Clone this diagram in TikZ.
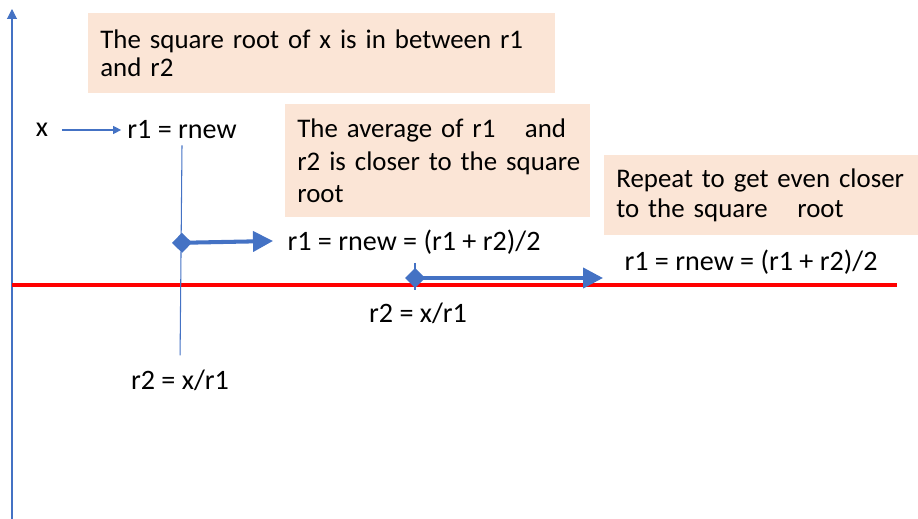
\documentclass[tikz,border=0pt]{standalone}
\usepackage{fontspec}
\setmainfont{Carlito}
\usetikzlibrary{arrows.meta}
\definecolor{axisblue}{HTML}{4472C4}
\definecolor{notefill}{HTML}{FBE5D6}
\begin{document}
\begin{tikzpicture}[x=0.02cm,y=-0.02cm,font=\fontsize{16}{17}\selectfont,
	note/.style={fill=notefill,anchor=north west,align=left,inner xsep=0.24cm,inner ysep=0pt},
	thinblue/.style={draw=axisblue,line width=0.6pt},
	jump/.style={draw=axisblue,line width=2.3pt,{Diamond[length=0.4cm,width=0.4cm]}-{Triangle[length=0.4cm,width=0.4cm]}}]
	\useasboundingbox (0,0) rectangle (918,519);
	
	\coordinate (axisbot) at (12,519);
	\coordinate (axistop) at (12,9);
	\draw[thinblue,-{Triangle[length=0.2cm,width=0.2cm]}] (axisbot) -- (axistop);
	\coordinate (linestart) at (12,285);
	\coordinate (lineend) at (897,285);
	\draw[red,line width=1.8pt] (linestart) -- (lineend);
	
	\node[note,minimum width=9.34cm,minimum height=1.6cm,text width=8.86cm,font=\fontsize{15.3}{16}\selectfont] (sqrtnote) at (88,13) {\mbox{The square root of x is in between r1}\\and r2};
	\node[note,minimum width=6.1cm,minimum height=2.26cm,text width=5.62cm,font=\fontsize{15.3}{18.5}\selectfont] (avgnote) at (285,104) {\mbox{The average of r1\hspace{1.1em}and}\\\mbox{r2 is closer to the square}\\root};
	\node[note,minimum width=6.28cm,minimum height=1.6cm,text width=5.8cm,font=\fontsize{15.3}{17}\selectfont] (repeatnote) at (604,155) {\mbox{Repeat to get even closer}\\\mbox{to the square\hspace{1.1em}root}};
	
	\node (x) at (42,130) {x};
	\node (rnew) at (182,130) {r1 = rnew};
	\node (rtwoa) at (180,380) {r2 = x/r1};
	\node (avga) at (414,242) {r1 = rnew = (r1 + r2)/2};
	\node (rtwob) at (418,313) {r2 = x/r1};
	\node (avgb) at (751,262) {r1 = rnew = (r1 + r2)/2};
	
	\draw[thinblue,-{Triangle[length=0.16cm,width=0.16cm]},shorten <=0.15cm] (x) -- (rnew);
	\draw[thinblue,shorten >=0.16cm] (rnew.south) -- (rtwoa.north);
	\coordinate (ticktop) at (415,263);
	\coordinate (tickbot) at (415,290);
	\draw[thinblue] (ticktop) -- (tickbot);
	
	\coordinate (froma) at (172,243);
	\coordinate (toa) at (273,241);
	\draw[jump] (froma) -- (toa);
	\coordinate (fromb) at (405,278);
	\coordinate (tob) at (603,278);
	\draw[jump] (fromb) -- (tob);
\end{tikzpicture}
\end{document}
